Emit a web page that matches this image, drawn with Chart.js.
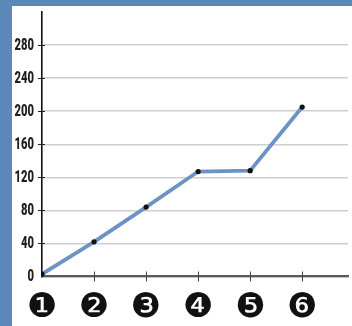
<!DOCTYPE html>
<html>
<head>
<meta charset="utf-8">
<script src="https://cdn.jsdelivr.net/npm/chart.js@4/dist/chart.umd.min.js"></script>
<style>
  html, body { margin: 0; padding: 0; background: #ffffff; }
  .frame {
    width: 340px;
    height: 320px;
    border-top: 6px solid #5b87b9;
    border-left: 12px solid #5b87b9;
    background: #ffffff;
  }
  canvas { display: block; }
</style>
</head>
<body>
<div class="frame"><canvas id="chart" width="340" height="320"></canvas></div>
<script>
const steps = [1, 2, 3, 4, 5, 6];
const stepLabels = ["\u2776", "\u2777", "\u2778", "\u2779", "\u277A", "\u277B"];
const values = [3, 42, 84, 127, 128, 205];
const yTicks = [0, 40, 80, 120, 160, 200, 240, 280];

const points = steps.map((s, i) => ({ x: s, y: values[i] }));

// condensed y labels + tick marks crossing the axes
const axisDecor = {
  id: "axisDecor",
  afterDraw(chart) {
    const { x, y } = chart.scales;
    const ctx = chart.ctx;
    ctx.save();
    ctx.strokeStyle = "#222222";
    ctx.lineWidth = 1;
    yTicks.forEach((v) => {
      if (v === 0) return;
      const py = Math.round(y.getPixelForValue(v)) + 0.5;
      ctx.beginPath();
      ctx.moveTo(x.left - 4, py);
      ctx.lineTo(x.left + 3, py);
      ctx.stroke();
    });
    ctx.strokeStyle = "#444444";
    steps.forEach((s) => {
      if (s === 1) return;
      const px = Math.round(x.getPixelForValue(s)) + 0.5;
      ctx.beginPath();
      ctx.moveTo(px, y.bottom - 5);
      ctx.lineTo(px, y.bottom + 5);
      ctx.stroke();
    });

    ctx.font = "900 16px Roboto";
    ctx.fillStyle = "#1e1e1e";
    ctx.textAlign = "right";
    ctx.textBaseline = "middle";
    const squeeze = 0.7;
    const right = x.left - 8;
    ctx.scale(squeeze, 1);
    yTicks.forEach((v) => {
      ctx.fillText(String(v), right / squeeze, y.getPixelForValue(v) + 0.5);
    });
    ctx.restore();
  },
};

new Chart(document.getElementById("chart").getContext("2d"), {
  type: "line",
  data: {
    datasets: [
      {
        data: points,
        borderColor: "#6b93c4",
        borderWidth: 3.8,
        tension: 0,
        pointRadius: 2.6,
        pointBackgroundColor: "#111111",
        pointBorderWidth: 0,
      },
    ],
  },
  options: {
    responsive: false,
    animation: false,
    layout: { padding: { top: 6, right: 2, left: 0, bottom: 0 } },
    plugins: { legend: { display: false }, tooltip: { enabled: false } },
    scales: {
      x: {
        type: "linear",
        min: 1,
        max: 6.88,
        afterBuildTicks: (scale) => {
          scale.ticks = steps.map((v) => ({ value: v }));
        },
        afterFit: (scale) => {
          scale.height = 49.5;
        },
        grid: { drawOnChartArea: false, drawTicks: false },
        border: { color: "#5a5a5a", width: 2.2 },
        ticks: {
          padding: 11,
          color: "#111111",
          font: { family: "DejaVu Sans", size: 34 },
          callback: (value) => stepLabels[steps.indexOf(value)] || "",
        },
      },
      y: {
        min: 0,
        max: 320,
        afterBuildTicks: (scale) => {
          scale.ticks = yTicks.map((v) => ({ value: v }));
        },
        afterFit: (scale) => {
          scale.width = 30;
        },
        grid: {
          color: "#cfcfcf",
          lineWidth: 1.5,
          drawTicks: false,
        },
        border: { color: "#111111", width: 1.6 },
        ticks: { display: false },
      },
    },
  },
  plugins: [axisDecor],
});
</script>
</body>
</html>
